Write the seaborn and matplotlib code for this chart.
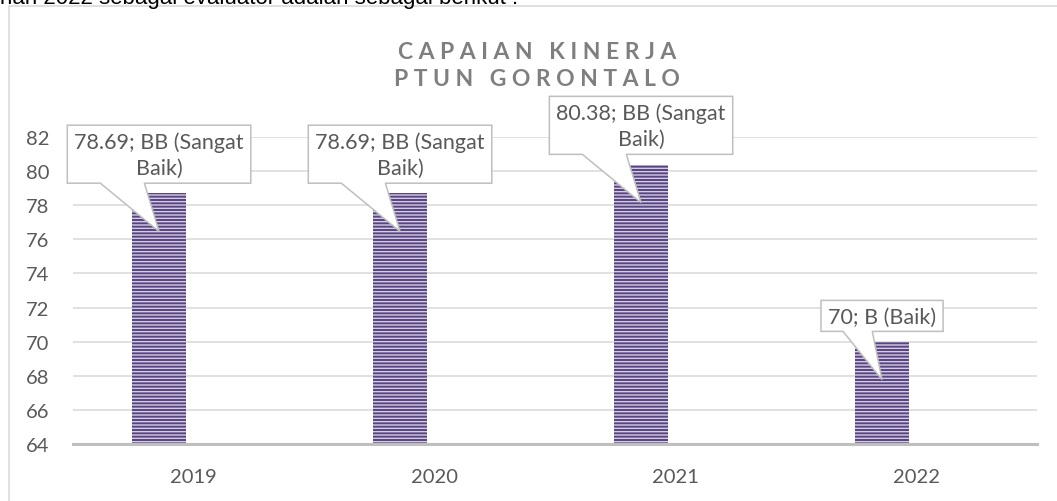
import matplotlib
matplotlib.use("Agg")
import matplotlib.pyplot as plt
import seaborn as sns
import pandas as pd
from matplotlib.patches import Polygon, Rectangle
from matplotlib.transforms import IdentityTransform

# ---- data ----
years = ["2019", "2020", "2021", "2022"]
values = [78.69, 78.69, 80.38, 70]
grades = ["BB (Sangat\nBaik)", "BB (Sangat\nBaik)", "BB (Sangat\nBaik)", "B (Baik)"]
yticks = [64, 66, 68, 70, 72, 74, 76, 78, 80, 82]
title = "CAPAIAN KINERJA\nPTUN GORONTALO"
intro = "han 2022 sebagai evaluator adalah sebagai berikut :"

sns.set_theme(style="white")
plt.rcParams["font.family"] = ["Lato", "DejaVu Sans"]
plt.rcParams["hatch.linewidth"] = 1.0
plt.rcParams["hatch.color"] = "#D4CCE4"

W, H = 1057, 502
fig = plt.figure(figsize=(W / 100, H / 100), dpi=100)
ax = fig.add_axes([73 / W, 57 / H, 964 / W, 307 / H])

df = pd.DataFrame({"year": years, "value": values})
sns.barplot(data=df, x="year", y="value", ax=ax, width=0.224,
            color="#574480", saturation=1, errorbar=None, zorder=2)
for p in ax.patches:
    p.set_x(p.get_x() - 0.143)
    p.set_hatch("-----")
    p.set_edgecolor("#D4CCE4")
    p.set_linewidth(0)

ax.set_ylim(64, 82)
ax.set_yticks(yticks)
ax.set_xlim(-0.5, 3.5)
ax.set_xlabel("")
ax.set_ylabel("")
ax.yaxis.grid(True, color="#D9D9D9", lw=1.1, zorder=0)
ax.set_axisbelow(True)
for s in ["left", "right", "top"]:
    ax.spines[s].set_visible(False)
ax.spines["bottom"].set_color("#BFBFBF")
ax.spines["bottom"].set_linewidth(2.2)
ax.tick_params(axis="both", length=0, labelsize=14.5, labelcolor="#595959")
ax.tick_params(axis="y", pad=17)
ax.tick_params(axis="x", pad=17)

# chart frame
fig.add_artist(Rectangle((9 / W, -0.2), 1.5, 1.2 - 7 / H, transform=fig.transFigure,
                         fill=False, ec="#D9D9D9", lw=1.1))
# title
title_sp = "\n".join("   ".join(" ".join(w) for w in line.split(" ")) for line in title.split("\n"))
fig.text(537 / W, 1 - 66 / H, title_sp, ha="center", va="center", fontsize=16.5,
         fontweight="bold", color="#7F7F7F", linespacing=1.3)
# cut-off document text above the chart (cropped in the source screenshot)
fig.text(0, 1 - 4 / H, intro, ha="left", va="baseline", fontsize=16,
         family="Liberation Sans", color="black")

# callout labels
texts = []
for i, (v, g) in enumerate(zip(values, grades)):
    xc = i - 0.143
    lab = f"{v:g}; {g}"
    t = ax.annotate(lab, xy=(xc, v), xytext=(0, 11), textcoords="offset points",
                    ha="center", va="bottom", fontsize=15.5, color="#595959",
                    linespacing=1.4, multialignment="center", zorder=6,
                    annotation_clip=False)
    texts.append((t, xc, v))

fig.canvas.draw()
r = fig.canvas.get_renderer()
pad = 7
for t, xc, v in texts:
    bb = t.get_window_extent(r)
    bx0, bx1 = bb.x0 - pad, bb.x1 + pad
    by0, by1 = bb.y0 - pad + 2, bb.y1 + pad - 1
    tx, ty = ax.transData.transform((xc, v))
    ty -= 38
    w = bx1 - bx0
    verts = [(bx0, by0), (bx0 + 0.18 * w, by0), (tx, ty), (bx0 + 0.42 * w, by0),
             (bx1, by0), (bx1, by1), (bx0, by1)]
    ax.add_patch(Polygon(verts, closed=True, transform=IdentityTransform(),
                         fc="white", ec="#BFBFBF", lw=1.1, zorder=5, clip_on=False))

fig.savefig("out.png", dpi=100)
